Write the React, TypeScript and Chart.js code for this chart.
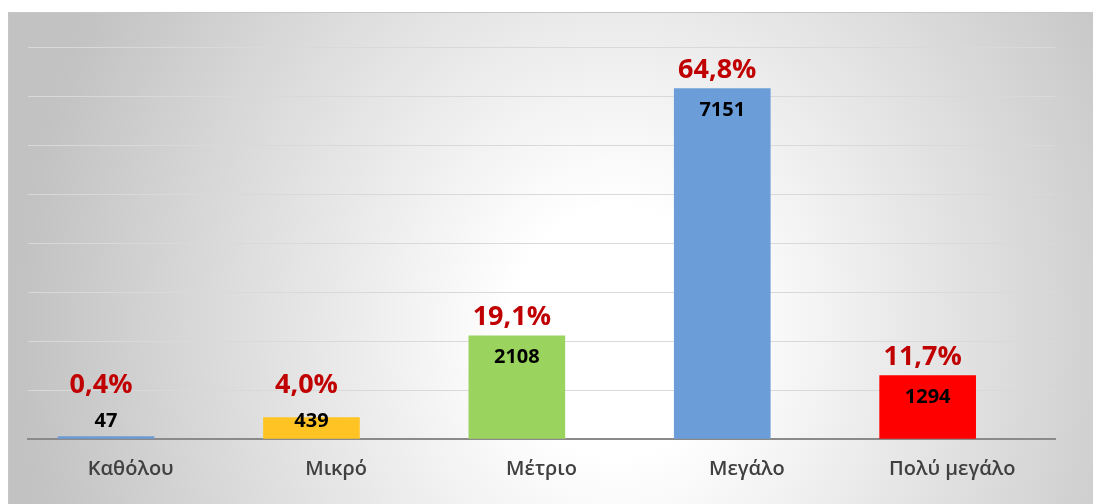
import React, { useEffect, useRef } from "react";
import { Chart, registerables } from "chart.js";

Chart.register(...registerables);

const categories = ["Καθόλου", "Μικρό", "Μέτριο", "Μεγάλο", "Πολύ μεγάλο"];
const counts = [47, 439, 2108, 7151, 1294];
const percentLabels = ["0,4%", "4,0%", "19,1%", "64,8%", "11,7%"];
const barColors = ["#6b9bd6", "#ffc424", "#9ad45e", "#6b9ed9", "#ff0000"];
const yTicks = [0, 1000, 2000, 3000, 4000, 5000, 6000, 7000, 8000];

const BAR_SHIFT = -0.12;
const FONT = "'Open Sans', 'Noto Sans', sans-serif";

const bgPlugin = {
  id: "bgGrad",
  beforeDraw(chart: any) {
    const { ctx, width, height } = chart;
    ctx.save();
    ctx.translate(610, 320);
    ctx.scale(1, 1.15);
    const g = ctx.createRadialGradient(0, 0, 0, 0, 0, 600);
    g.addColorStop(0, "#ffffff");
    g.addColorStop(0.18, "#ffffff");
    g.addColorStop(1, "#c2c2c2");
    ctx.fillStyle = g;
    ctx.fillRect(-700, -400, 1500, 800);
    ctx.restore();
    ctx.save();
    ctx.strokeStyle = "#c6c6c6";
    ctx.lineWidth = 1;
    ctx.beginPath();
    ctx.moveTo(0.5, height);
    ctx.lineTo(0.5, 0.5);
    ctx.lineTo(width, 0.5);
    ctx.stroke();
    ctx.restore();
  },
};

const labelPlugin = {
  id: "barLabels",
  afterDatasetsDraw(chart: any) {
    const { ctx } = chart;
    const meta = chart.getDatasetMeta(0);
    const base = chart.scales.y.getPixelForValue(0);
    ctx.save();
    ctx.textAlign = "center";
    ctx.textBaseline = "middle";
    meta.data.forEach((bar: any, i: number) => {
      const top = bar.y;
      const numY = Math.min(top + 22, base - 18);
      ctx.fillStyle = "#000000";
      ctx.font = `bold 20px ${FONT}`;
      ctx.fillText(String(counts[i]), bar.x, numY);
      const pctY = Math.min(top - 18, numY - 36);
      ctx.fillStyle = "#c00000";
      ctx.font = `bold 27px ${FONT}`;
      ctx.fillText(percentLabels[i], bar.x - 5, pctY);
    });
    ctx.restore();
  },
};

export default function App() {
  const ref = useRef<HTMLCanvasElement | null>(null);
  useEffect(() => {
    if (!ref.current) return;
    const chart = new Chart(ref.current, {
      type: "bar",
      data: {
        datasets: [
          {
            data: counts.map((v, i) => ({ x: i + BAR_SHIFT, y: v })),
            backgroundColor: barColors,
            barThickness: 96,
          },
        ],
      },
      options: {
        animation: false,
        responsive: false,
        maintainAspectRatio: false,
        layout: { padding: { left: 20, right: 38, top: 35, bottom: 0 } },
        plugins: { legend: { display: false }, tooltip: { enabled: false } },
        scales: {
          x: {
            type: "linear",
            min: -0.5,
            max: 4.5,
            offset: false,
            afterBuildTicks(scale: any) {
              scale.ticks = categories.map((_, i) => ({ value: i }));
            },
            afterFit(scale: any) {
              scale.height = 65;
            },
            ticks: {
              autoSkip: false,
              maxRotation: 0,
              padding: 18,
              color: "#404040",
              font: { family: FONT, size: 20, weight: "600" },
              callback: (v: any) => categories[Math.round(Number(v))] ?? "",
            },
            grid: { display: false, drawTicks: false, offset: false },
            border: { display: true, color: "#8a8a8a", width: 2 },
          },
          y: {
            min: 0,
            max: 8000,
            afterBuildTicks(scale: any) {
              scale.ticks = yTicks.map((v) => ({ value: v }));
            },
            afterFit(scale: any) {
              scale.width = 0;
            },
            ticks: { display: false },
            grid: { color: "#d9d9d9", lineWidth: 1, drawTicks: false },
            border: { display: false },
          },
        },
      },
      plugins: [bgPlugin, labelPlugin],
    });
    return () => chart.destroy();
  }, []);
  return (
    <div style={{ position: "fixed", left: 8, top: 12, width: 1085, height: 492 }}>
      <canvas ref={ref} width={1085} height={492} style={{ width: 1085, height: 492, display: "block" }} />
    </div>
  );
}
